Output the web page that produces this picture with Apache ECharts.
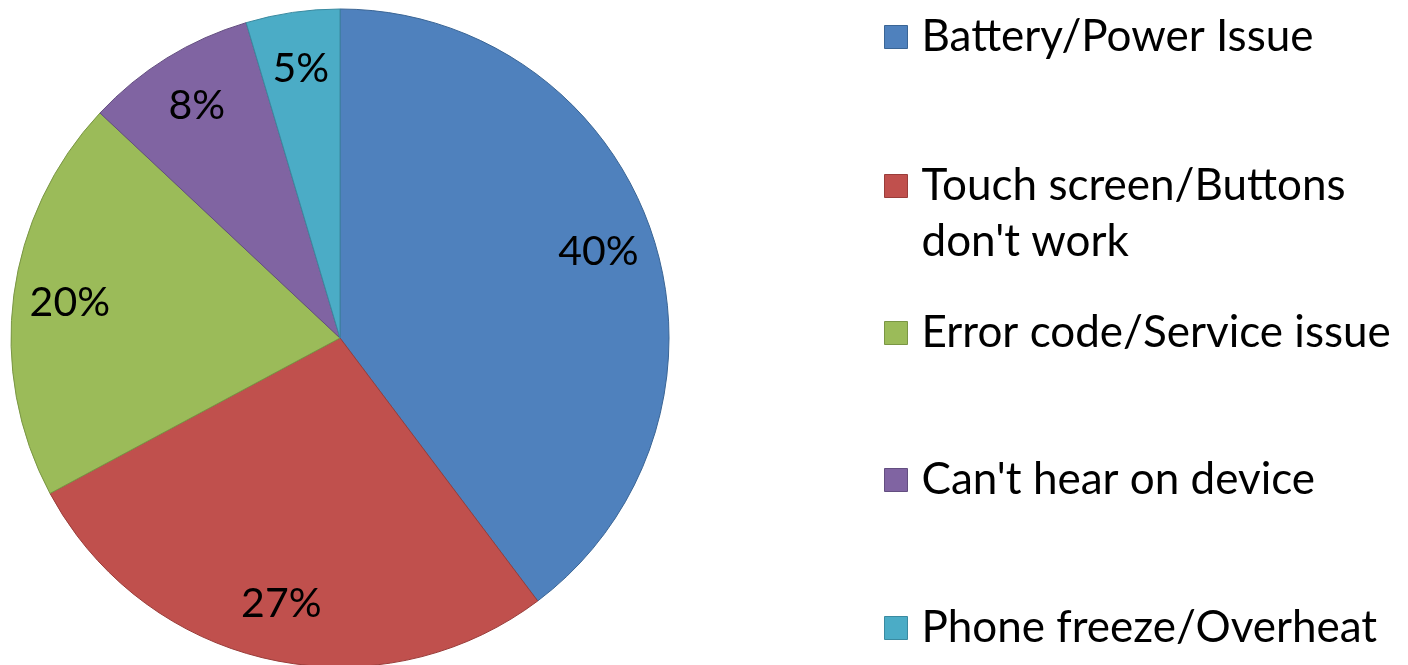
<!DOCTYPE html>
<html><head><meta charset="utf-8">
<script src="https://cdn.jsdelivr.net/npm/echarts@6/dist/echarts.min.js"></script>
<style>html,body{margin:0;padding:0;background:#fff}#c{width:1408px;height:665px}</style>
</head><body><div id="c"></div>
<script>
const categories = ['Battery/Power Issue', "Touch screen/Buttons don't work", 'Error code/Service issue', "Can't hear on device", 'Phone freeze/Overheat'];
const legendLabels = ['Battery/Power Issue', "\nTouch screen/Buttons\ndon't work", 'Error code/Service issue', "Can't hear on device", 'Phone freeze/Overheat'];
const values = [39.7, 27.4, 19.8, 8.4, 4.6];
const colors = ['#4F81BD', '#C0504D', '#9BBB59', '#8064A2', '#4BACC6'];
const borders = ['#3A6595', '#9A3D3A', '#7A9644', '#634E80', '#3A8AA0'];

const FONT = 'Lato';
const FS = 44;
const LFS = 41;
const LH = 56;
const legendTops = [9, 102, 305, 452, 600];

const pieData = categories.map((n, i) => ({
  name: n, value: values[i],
  itemStyle: { color: colors[i], borderColor: borders[i], borderWidth: 1 }
}));
const labelData = categories.map((n, i) => ({ name: n, value: values[i] }));

const legends = categories.map((n, i) => ({
  data: [n],
  orient: 'vertical',
  left: 884,
  top: legendTops[i],
  padding: 0,
  icon: 'rect',
  itemWidth: 23,
  itemHeight: 23,
  selectedMode: false,
  formatter: () => legendLabels[i],
  itemStyle: { borderColor: borders[i], borderWidth: 1 },
  textStyle: {
    fontFamily: FONT, fontSize: FS, color: '#000', lineHeight: LH,
    padding: [0, 0, 0, 9]
  }
}));

const chart = echarts.init(document.getElementById('c'));
chart.setOption({
  animation: false,
  backgroundColor: '#fff',
  legend: legends,
  series: [
    {
      type: 'pie', center: [340, 338], radius: 329, startAngle: 90, clockwise: true,
      label: { show: false }, labelLine: { show: false },
      emphasis: { disabled: true },
      data: pieData
    },
    {
      type: 'pie', center: [340, 338], radius: [210, 329], startAngle: 90, clockwise: true,
      silent: true,
      itemStyle: { color: 'rgba(0,0,0,0)', borderWidth: 0 },
      label: {
        show: true, position: 'inside',
        formatter: p => Math.round(p.percent) + '%',
        fontFamily: FONT, fontSize: LFS, color: '#000'
      },
      labelLine: { show: false },
      emphasis: { disabled: true },
      data: labelData
    }
  ]
});
</script></body></html>
